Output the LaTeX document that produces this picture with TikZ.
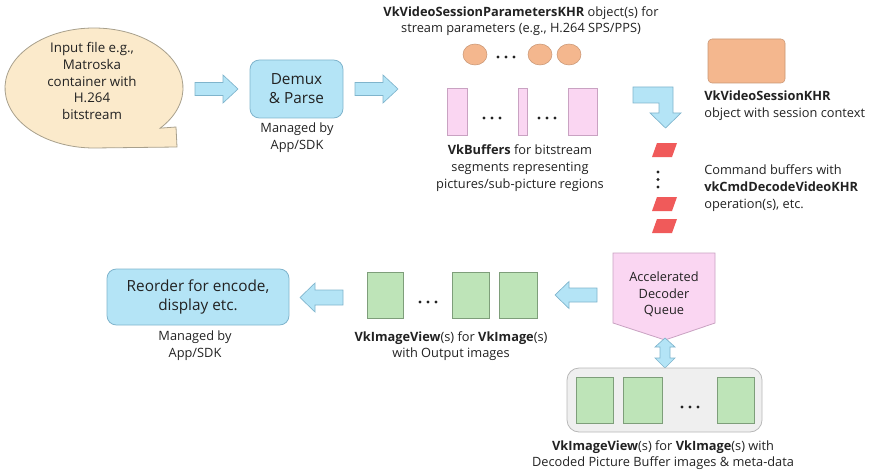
\documentclass[tikz,border=0pt]{standalone}
\usepackage{fontspec}
\setmainfont{Open Sans}
\usetikzlibrary{shapes.geometric}
\definecolor{bubblefill}{HTML}{FBEACB}
\definecolor{bubbledraw}{HTML}{A8A08C}
\definecolor{bluefill}{HTML}{B4E4F6}
\definecolor{bluedraw}{HTML}{7FB4CC}
\definecolor{pinkfill}{HTML}{FAD6F2}
\definecolor{pinkdraw}{HTML}{C9A2C2}
\definecolor{greenfill}{HTML}{BEE4B8}
\definecolor{greendraw}{HTML}{7E9E7A}
\definecolor{orangefill}{HTML}{F4B78E}
\definecolor{orangedraw}{HTML}{C99674}
\definecolor{redfill}{HTML}{F05A5A}
\definecolor{greyfill}{HTML}{EFEFEF}
\definecolor{greydraw}{HTML}{B8B8B8}
\definecolor{txt}{HTML}{222222}
\newcommand\lblfont{\fontsize{9.6}{12.5}\selectfont}
\newcommand\bigfont{\fontsize{11.5}{14.2}\selectfont}
\newcommand\hdots[2]{\fill[txt] (#1-8,#2) circle (1.6) (#1,#2) circle (1.6) (#1+8,#2) circle (1.6);}
\begin{document}
\begin{tikzpicture}[x=0.75pt,y=-0.75pt,
  lbl/.style={font=\lblfont, text=txt, align=center, inner sep=0pt},
  lbll/.style={font=\lblfont, text=txt, align=left, inner sep=0pt, anchor=west},
  barrow/.style={fill=bluefill, draw=bluedraw, line width=0.5pt},
  bluebox/.style={fill=bluefill, draw=bluedraw, line width=0.6pt, rounded corners=7pt},
  pinkrect/.style={fill=pinkfill, draw=pinkdraw, line width=0.5pt},
  greenrect/.style={fill=greenfill, draw=greendraw, line width=0.5pt},
  orangeobj/.style={fill=orangefill, draw=orangedraw, line width=0.4pt},
  redpar/.style={fill=redfill, draw=none}
]
\useasboundingbox (0,0) rectangle (880,474);

% speech bubble
\draw[fill=bubblefill, draw=bubbledraw, line width=0.6pt]
  (94,88) ++(42:89 and 60) coordinate (bubstart)
  arc[start angle=42, end angle=-270, x radius=89, y radius=60]
  -- (177,147) -- (176,127) -- cycle;
\node[lbl, font=\fontsize{10}{12.7}\selectfont] (input) at (92,81) {Input file e.g.,\\Matroska\\container with\\H.264\\bitstream};

% arrow 1
\draw[barrow] (195,89) ++(0,-6.5) -- ++(28,0) -- ++(0,-7.5) -- ++(15,14) -- ++(-15,14) -- ++(0,-7.5) -- ++(-28,0) -- cycle;

% demux box
\node[bluebox, minimum width=93*0.75pt, minimum height=58*0.75pt, font=\bigfont, text=txt, align=center, inner sep=0pt] (demux) at (296.5,89) {Demux\\\& Parse};
\node[lbl] (man1) at (297,138) {Managed by\\App/SDK};

% arrow 2
\draw[barrow] (355,89) ++(0,-6.5) -- ++(28,0) -- ++(0,-7.5) -- ++(15,14) -- ++(-15,14) -- ++(0,-7.5) -- ++(-28,0) -- cycle;

% parameters text
\node[lbl] (paramtxt) at (521,21) {\textbf{VkVideoSessionParametersKHR} object(s) for\\stream parameters (e.g., H.264 SPS/PPS)};
\node[orangeobj, ellipse, minimum width=24*0.75pt, minimum height=21*0.75pt, inner sep=0pt] (e1) at (475,54.5) {};
\hdots{506}{57}
\node[orangeobj, ellipse, minimum width=24*0.75pt, minimum height=21*0.75pt, inner sep=0pt] (e2) at (540,54.5) {};
\node[orangeobj, ellipse, minimum width=24*0.75pt, minimum height=21*0.75pt, inner sep=0pt] (e3) at (569,54.5) {};

% pink buffers
\draw[pinkrect] (447,88) rectangle (467,135);
\hdots{492}{118}
\draw[pinkrect] (518,88) rectangle (527,135);
\hdots{547}{118}
\draw[pinkrect] (568,88) rectangle (597,135);
\node[lbl] (buftxt) at (520,168) {\textbf{VkBuffers} for bitstream\\segments representing\\pictures/sub-picture regions};

% session object
\draw[orangeobj, rounded corners=3pt] (708,39) rectangle (785,83);
\node[lbll] (sesstxt) at (704,105.5) {\textbf{VkVideoSessionKHR}\\object with session context};

% bent arrow
\draw[barrow] (633,87) -- (673,87) -- (673,113) -- (681,113) -- (665.5,128) -- (650,113) -- (659,113) -- (659,103) -- (633,103) -- cycle;

% command buffers
\draw[redpar] (652,157) -- (672,157) -- (677,143) -- (657,143) -- cycle;
\fill[txt] (658,172) circle (1.6) (658,179.5) circle (1.6) (658,187) circle (1.6);
\draw[redpar] (652,211) -- (672,211) -- (677,197) -- (657,197) -- cycle;
\draw[redpar] (652,233) -- (672,233) -- (677,219) -- (657,219) -- cycle;
\node[lbll] (cmdtxt) at (704,188) {Command buffers with\\\textbf{vkCmdDecodeVideoKHR}\\operation(s), etc.};

% decoder queue
\draw[fill=pinkfill, draw=pinkdraw, line width=0.6pt] (613,253) -- (715,253) -- (715,323) -- (665,340) -- (613,323) -- cycle;
\node[lbl] (queue) at (664,294.5) {Accelerated\\Decoder\\Queue};

% double arrow
\draw[barrow] (665,338) -- (675,347) -- (670,347) -- (670,358) -- (675,358) -- (665,368) -- (655,358) -- (660,358) -- (660,347) -- (655,347) -- cycle;

% DPB
\draw[fill=greyfill, draw=greydraw, line width=0.6pt, rounded corners=9pt] (567,368) rectangle (762,432);
\draw[greenrect] (576,377) rectangle (613,423);
\draw[greenrect] (623,377) rectangle (662,423);
\hdots{690}{407}
\draw[greenrect] (717,377) rectangle (754,423);
\node[lbl] (dpbtxt) at (663,455) {\textbf{VkImageView}(s) for \textbf{VkImage}(s) with\\Decoded Picture Buffer images \& meta-data};

% arrow queue -> output
\draw[barrow] (597,295) ++(0,-7) -- ++(-28,0) -- ++(0,-6.5) -- ++(-14,13.5) -- ++(14,13.5) -- ++(0,-6.5) -- ++(28,0) -- cycle;

% output images
\draw[greenrect] (367,272) rectangle (403,318);
\hdots{428}{302}
\draw[greenrect] (452,272) rectangle (489,318);
\draw[greenrect] (499,272) rectangle (537,318);
\node[lbl] (outtxt) at (451,346) {\textbf{VkImageView}(s) for \textbf{VkImage}(s)\\with Output images};

% arrow output -> reorder
\draw[barrow] (343,297.5) ++(0,-7.5) -- ++(-28,0) -- ++(0,-7) -- ++(-15,14.5) -- ++(15,14.5) -- ++(0,-7) -- ++(28,0) -- cycle;

% reorder box
\node[bluebox, minimum width=182*0.75pt, minimum height=56*0.75pt, font=\bigfont, text=txt, align=center, inner sep=0pt] (reorder) at (198,297) {Reorder for encode,\\display etc.};
\node[lbl] (man2) at (195,346) {Managed by\\App/SDK};
\end{tikzpicture}
\end{document}
